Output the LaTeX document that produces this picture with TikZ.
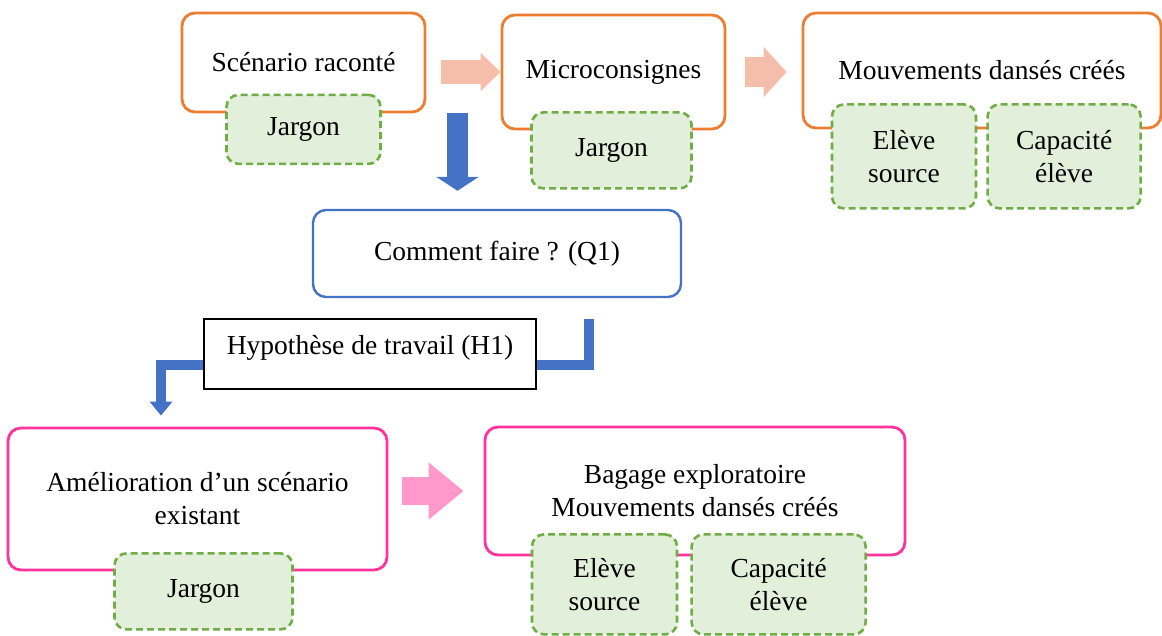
\documentclass[tikz,border=0pt]{standalone}
\usepackage{fontspec}
\setmainfont{Liberation Serif}
\usetikzlibrary{positioning, backgrounds, arrows.meta}

\definecolor{scorange}{HTML}{ED7D31}
\definecolor{scpink}{HTML}{FF3399}
\definecolor{scblue}{HTML}{4472C4}
\definecolor{scgreen}{HTML}{70AD47}
\definecolor{scgreenfill}{HTML}{E2EFDA}
\definecolor{scsalmon}{HTML}{F5BEAA}
\definecolor{scrose}{HTML}{FF99CC}

\begin{document}
\begin{tikzpicture}[
    x=1pt, y=-1pt,
    txt/.style={font=\fontsize{27.5}{33}\selectfont, align=center, inner sep=0pt},
    box/.style={txt, draw, line width=2.8pt, rounded corners=13pt, fill=white},
    orangebox/.style={box, draw=scorange},
    pinkbox/.style={box, draw=scpink},
    qbox/.style={box, draw=scblue, line width=2.4pt},
    hbox/.style={txt, draw=black, line width=1.3pt, fill=white, text height=20pt, text depth=18pt},
    chip/.style={txt, draw=scgreen, fill=scgreenfill, dash pattern=on 7pt off 4pt, line width=2.6pt, rounded corners=12pt},
    fatarrow/.style args={#1/#2/#3}{line width=#1, -{Triangle[width=#2, length=#3]}},
]
\useasboundingbox (0,0) rectangle (1162,636);

% Top row
\node[orangebox, minimum width=243pt, minimum height=99pt] (scen) at (303.5,62.5) {Scénario raconté};
\node[chip, minimum width=154pt, minimum height=69pt] (jargA) at ([yshift=-16pt]scen.south) {Jargon};

\node[orangebox, minimum width=223pt, minimum height=114pt] (micro) at (613.5,72) {Microconsignes};
\node[chip, minimum width=160pt, minimum height=76pt] (jargB) at ([xshift=-2pt, yshift=-20pt]micro.south) {Jargon};

\node[orangebox, minimum width=358pt, minimum height=115pt] (mouv) at (982,70.5) {Mouvements dansés créés};
\node[chip, minimum width=144pt, minimum height=104pt] (srcA) at ([xshift=-78pt, yshift=-27pt]mouv.south) {Elève\\source};
\node[chip, minimum width=153pt, minimum height=104pt, right=9pt of srcA] (capA) {Capacité\\élève};

% Question and hypothesis
\node[qbox, minimum width=368pt, minimum height=87pt] (q1) at (497,253.5) {Comment faire ? (Q1)};
\node[hbox, minimum width=332pt, minimum height=70pt] (hyp) at (370,354) {Hypothèse de travail (H1)};
\coordinate (hbend) at ([yshift=-11pt]hyp.center);

% Bottom row
\node[pinkbox, minimum width=379pt, minimum height=142pt] (amel) at (197.5,499) {Amélioration d’un scénario\\existant};
\node[chip, minimum width=178pt, minimum height=76pt] (jargC) at ([xshift=6pt, yshift=-20pt]amel.south) {Jargon};

\node[pinkbox, minimum width=420pt, minimum height=128pt] (bag) at (695,491) {Bagage exploratoire\\Mouvements dansés créés};
\node[chip, minimum width=145pt, minimum height=100pt] (srcB) at ([xshift=-90.5pt, yshift=-28pt]bag.south) {Elève\\source};
\node[chip, minimum width=174pt, minimum height=100pt, right=12pt of srcB] (capB) {Capacité\\élève};

% Block arrows
\draw[fatarrow=24pt/37pt/20pt, scsalmon, shorten <=15pt] (scen.east |- micro.west) -- (micro.west);
\draw[fatarrow=30pt/49pt/23pt, scsalmon, shorten <=19pt, shorten >=15pt] (micro.east) -- (mouv.west |- micro.east);
\draw[fatarrow=28pt/55pt/35pt, scrose, shorten <=14pt, shorten >=20pt] (amel.east |- bag.west) -- (bag.west);
\draw[fatarrow=21pt/42pt/14pt, scblue, shorten >=18pt] ([xshift=-39.5pt]q1.north |- scen.south) -- ([xshift=-39.5pt]q1.north);

\begin{scope}[on background layer]
\draw[fatarrow=10pt/22pt/14pt, scblue, shorten <=21pt, shorten >=11pt]
    ([xshift=92pt]q1.south) |- (hbend) -| ([xshift=-36.5pt]amel.north);
\end{scope}

\end{tikzpicture}
\end{document}
